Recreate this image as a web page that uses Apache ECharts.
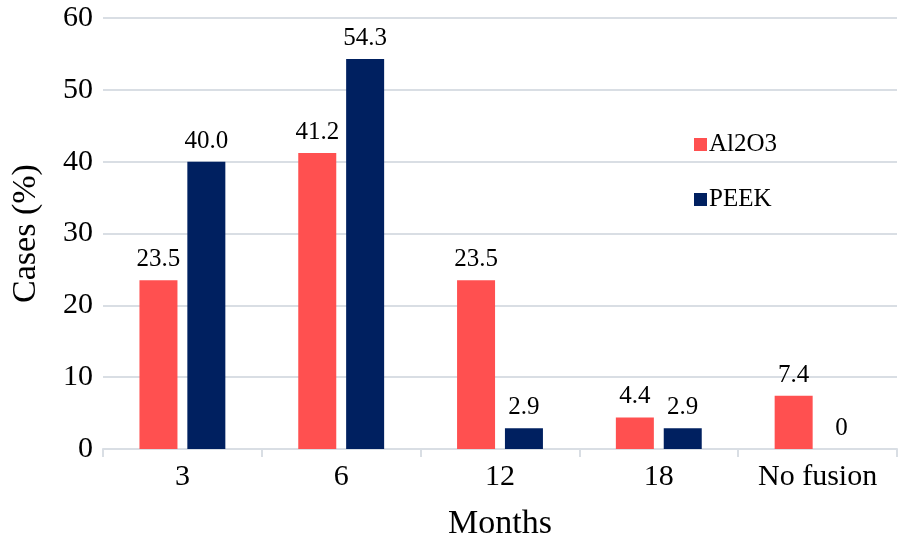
<!DOCTYPE html>
<html>
<head>
<meta charset="utf-8">
<script src="https://cdn.jsdelivr.net/npm/echarts@6/dist/echarts.min.js"></script>
<style>
  html, body { margin: 0; padding: 0; background: #fff; }
  #chart { width: 899px; height: 548px; }
</style>
</head>
<body>
<div id="chart"></div>
<script>
const categories = ["3", "6", "12", "18", "No fusion"];
const al2o3 = [23.5, 41.2, 23.5, 4.4, 7.4];
const peek = [40.0, 54.3, 2.9, 2.9, 0];
const labelsAl2o3 = ["23.5", "41.2", "23.5", "4.4", "7.4"];
const labelsPeek = ["40.0", "54.3", "2.9", "2.9", "0"];

const font = "Liberation Serif";
const gridColor = "#D9DEE4";

const chart = echarts.init(document.getElementById("chart"));

function labelFor(texts) {
  return {
    show: true,
    position: "top",
    distance: 8,
    color: "#000",
    fontFamily: font,
    fontSize: 25,
    formatter: (p) => texts[p.dataIndex],
  };
}

chart.setOption({
  animation: false,
  textStyle: { fontFamily: font, color: "#000" },
  grid: { left: 103, right: 2, top: 18, bottom: 99 },
  legend: {
    orient: "vertical",
    left: 689,
    top: 127,
    itemWidth: 13,
    itemHeight: 13,
    itemGap: 30,
    icon: "rect",
    textStyle: { fontFamily: font, fontSize: 25, color: "#000", padding: [0, 0, 0, -3] },
    data: ["Al2O3", "PEEK"],
  },
  xAxis: {
    type: "category",
    data: categories,
    name: "Months",
    nameLocation: "middle",
    nameGap: 58,
    nameTextStyle: { fontFamily: font, fontSize: 34, color: "#000" },
    axisLine: { lineStyle: { color: gridColor, width: 2 } },
    axisTick: { show: true, length: 8, lineStyle: { color: gridColor, width: 2 } },
    axisLabel: { fontFamily: font, fontSize: 30, color: "#000", margin: 13 },
  },
  yAxis: {
    type: "value",
    min: 0,
    max: 60,
    interval: 10,
    name: "Cases (%)",
    nameLocation: "middle",
    nameGap: 60,
    nameTextStyle: { fontFamily: font, fontSize: 34, color: "#000" },
    axisLine: { show: false },
    axisTick: { show: false },
    axisLabel: { fontFamily: font, fontSize: 30, color: "#000", margin: 10 },
    splitLine: { lineStyle: { color: gridColor, width: 2 } },
  },
  series: [
    {
      name: "Al2O3",
      type: "bar",
      data: al2o3,
      barWidth: 38,
      barGap: "26%",
      itemStyle: { color: "#FF5050" },
      label: labelFor(labelsAl2o3),
    },
    {
      name: "PEEK",
      type: "bar",
      data: peek,
      barWidth: 38,
      barGap: "26%",
      itemStyle: { color: "#002060" },
      label: labelFor(labelsPeek),
    },
  ],
});
</script>
</body>
</html>
